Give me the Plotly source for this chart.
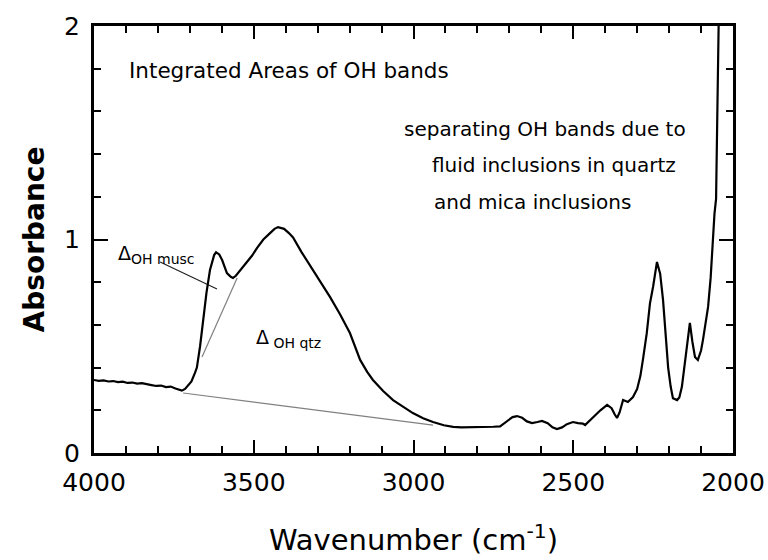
import plotly.graph_objects as go

# Spectrum (wavenumber in cm^-1, absorbance)
wavenumber = [4000, 3985, 3970, 3955, 3940, 3925, 3910, 3895, 3880, 3865, 3850, 3835,
              3820, 3805, 3790, 3775, 3760, 3745, 3735, 3725, 3715, 3705, 3695, 3684,
              3678, 3668, 3659, 3648, 3637, 3624, 3618, 3608, 3599, 3584, 3572, 3565,
              3556, 3549, 3535, 3521, 3505, 3490, 3470, 3449, 3435, 3424, 3405, 3390,
              3377, 3350, 3315, 3290, 3261, 3230, 3199, 3167, 3145, 3127, 3095, 3064,
              3030, 3002, 2970, 2939, 2905, 2876, 2850, 2800, 2750, 2729, 2710, 2690,
              2676, 2660, 2645, 2629, 2612, 2598, 2580, 2565, 2551, 2535, 2520, 2501,
              2485, 2470, 2463, 2450, 2432, 2415, 2394, 2380, 2370, 2363, 2355, 2344,
              2329, 2313, 2300, 2290, 2282, 2270, 2260, 2250, 2238, 2228, 2219, 2210,
              2203, 2195, 2188, 2175, 2168, 2160, 2150, 2144, 2135, 2127, 2119, 2110,
              2100, 2094, 2085, 2078, 2070, 2063, 2058, 2053, 2050, 2047, 2044]
absorbance = [0.342, 0.338, 0.340, 0.335, 0.337, 0.332, 0.334, 0.328, 0.330, 0.325, 0.327, 0.321,
              0.318, 0.314, 0.316, 0.309, 0.311, 0.302, 0.296, 0.292, 0.300, 0.318, 0.335, 0.375,
              0.40, 0.50, 0.623, 0.75, 0.857, 0.927, 0.94, 0.93, 0.904, 0.843, 0.825, 0.82,
              0.83, 0.843, 0.865, 0.89, 0.925, 0.96, 1.00, 1.03, 1.05, 1.058, 1.05, 1.03,
              1.01, 0.94, 0.857, 0.80, 0.73, 0.65, 0.562, 0.436, 0.38, 0.342, 0.29, 0.248,
              0.213, 0.187, 0.163, 0.145, 0.13, 0.122, 0.12, 0.12, 0.123, 0.125, 0.145, 0.168,
              0.173, 0.165, 0.148, 0.14, 0.145, 0.15, 0.14, 0.12, 0.112, 0.12, 0.135, 0.145,
              0.14, 0.138, 0.131, 0.15, 0.178, 0.20, 0.225, 0.21, 0.18, 0.164, 0.19, 0.248,
              0.239, 0.262, 0.30, 0.36, 0.436, 0.56, 0.70, 0.78, 0.895, 0.84, 0.717, 0.55,
              0.40, 0.31, 0.257, 0.248, 0.26, 0.31, 0.42, 0.497, 0.61, 0.52, 0.45, 0.436,
              0.48, 0.53, 0.61, 0.684, 0.82, 1.03, 1.12, 1.19, 1.5, 1.98, 2.1]

# Construction lines
qtz_baseline_x = [3721, 2939]
qtz_baseline_y = [0.281, 0.131]
musc_baseline_x = [3662, 3552]
musc_baseline_y = [0.45, 0.82]
pointer_x = [3793, 3615]
pointer_y = [0.895, 0.768]

# Axis ticks
x_ticks = [4000, 3500, 3000, 2500, 2000]
y_ticks = [0, 1, 2]

FONT = "DejaVu Sans"

fig = go.Figure()
fig.add_trace(go.Scatter(x=qtz_baseline_x, y=qtz_baseline_y, mode="lines",
                         line=dict(color="#808080", width=1.2), showlegend=False))
fig.add_trace(go.Scatter(x=musc_baseline_x, y=musc_baseline_y, mode="lines",
                         line=dict(color="#808080", width=1.2), showlegend=False))
fig.add_trace(go.Scatter(x=pointer_x, y=pointer_y, mode="lines",
                         line=dict(color="#222222", width=1.2), showlegend=False))
fig.add_trace(go.Scatter(x=wavenumber, y=absorbance, mode="lines",
                         line=dict(color="black", width=2.2), showlegend=False))

axis_common = dict(showline=True, linewidth=3, linecolor="black", mirror="ticks",
                   ticks="inside", tickwidth=2, tickcolor="black",
                   showgrid=False, zeroline=False, automargin=False,
                   tickfont=dict(family=FONT, size=25, color="black"))

fig.update_xaxes(range=[4000, 2000], tickvals=x_ticks, ticklen=13, ticklabelstandoff=5,
                 minor=dict(dtick=100, tick0=2000, ticks="inside", ticklen=7,
                            tickwidth=2, tickcolor="black"),
                 title=dict(text="Wavenumber (cm<sup>-1</sup>)",
                            font=dict(family=FONT, size=29, color="black"), standoff=34),
                 **axis_common)
fig.update_yaxes(range=[0, 2], tickvals=y_ticks, ticklen=14, ticklabelstandoff=6,
                 minor=dict(dtick=0.2, tick0=0, ticks="inside", ticklen=7,
                            tickwidth=2, tickcolor="black"),
                 title=dict(text="<b>Absorbance</b>",
                            font=dict(family=FONT, size=28, color="black"), standoff=12),
                 **axis_common)

annots = [
    dict(x=3897, y=1.79, text="Integrated Areas of OH bands", size=21.5),
    dict(x=3036, y=1.518, text="separating OH bands due to", size=20),
    dict(x=2948, y=1.349, text="fluid inclusions in quartz", size=20),
    dict(x=2942, y=1.176, text="and mica inclusions", size=20),
    dict(x=3931, y=0.93, text="Δ<sub><span style='font-size:14px'>OH musc</span></sub>", size=19),
    dict(x=3499, y=0.535, text="Δ<sub><span style='font-size:14px'> OH qtz</span></sub>", size=19),
]
for a in annots:
    fig.add_annotation(x=a["x"], y=a["y"], xref="x", yref="y", text=a["text"],
                       showarrow=False, xanchor="left", yanchor="middle",
                       font=dict(family=FONT, size=a["size"], color="black"))

fig.update_layout(width=768, height=560, margin=dict(l=94, r=35, t=26, b=107),
                  plot_bgcolor="white", paper_bgcolor="white",
                  font=dict(family=FONT, color="black"))

fig.write_html("out.html")
